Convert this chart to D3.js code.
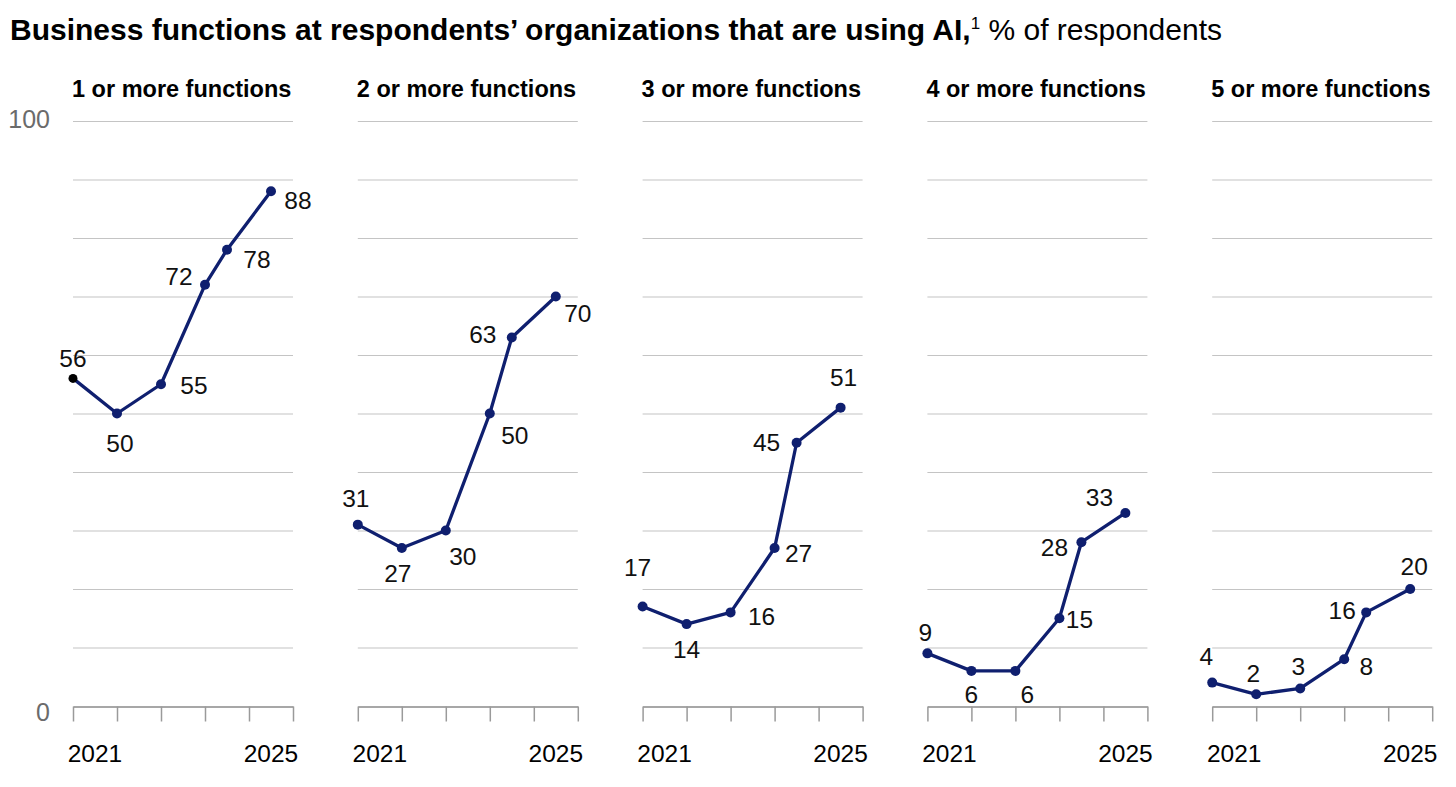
<!DOCTYPE html>
<html>
<head>
<meta charset="utf-8">
<script src="https://cdn.jsdelivr.net/npm/d3@7"></script>
<style>
  body { margin: 0; background: #fff; }
  text { font-family: "Liberation Sans", Arial, sans-serif; }
</style>
</head>
<body>
<div id="chart"></div>
<script>

// Panel titles
var panelTitles = ["1 or more functions", "2 or more functions", "3 or more functions",
    "4 or more functions", "5 or more functions"];

// Survey points, in years after start of 2021
var periods = [0, 1, 2, 3, 3.5, 4.5];

// % of respondents, one array per panel
var oneOrMore   = [56, 50, 55, 72, 78, 88];
var twoOrMore   = [31, 27, 30, 50, 63, 70];
var threeOrMore = [17, 14, 16, 27, 45, 51];
var fourOrMore  = [9, 6, 6, 15, 28, 33];
var fiveOrMore  = [4, 2, 3, 8, 16, 20];
var series = [oneOrMore, twoOrMore, threeOrMore, fourOrMore, fiveOrMore];

// Axis ticks
var yGrid = [0, 10, 20, 30, 40, 50, 60, 70, 80, 90, 100];
var yLabels = [0, 100];
var xTicks = [0, 1, 2, 3, 4, 5];
var xLabels = [{ pos: 0.5, text: "2021" }, { pos: 4.5, text: "2025" }];

// Label offsets from each point (label centre, px)
var labelOffsets = [
    [[0, -20], [3, 29], [33, 1], [-26, -9], [30, 9], [27, 9]],
    [[-2, -27], [-4, 25], [17, 25], [25, 21], [-29, -3], [22, 16]],
    [[-5, -40], [0, 25], [31, 4], [24, 5], [-30, -1], [3, -31]],
    [[-2, -21], [0, 23], [12, 23], [20, 1], [-27, 5], [-26, -16]],
    [[-6, -27], [-3, -21], [-2, -22], [22, 7], [-24, -2], [4, -23]]
];

var width = 1456, height = 787;
var panelLeft = 73, panelStep = 284.8, panelWidth = 220;
var plotTop = 121, plotBottom = 706;
var navy = "#0f1f6f";

var svg = d3.select("#chart").append("svg")
    .attr("width", width)
    .attr("height", height);

// Title
var title = svg.append("text")
    .attr("x", 10)
    .attr("y", 40)
    .style("font-size", "30px")
    .style("fill", "#000");
title.append("tspan")
    .style("font-weight", "bold")
    .text("Business functions at respondents\u2019 organizations that are using AI,");
title.append("tspan")
    .attr("dy", -11)
    .style("font-size", "17px")
    .text("1");
title.append("tspan")
    .attr("dy", 11)
    .text(" % of respondents");

var y = d3.scaleLinear().domain([0, 100]).range([plotBottom, plotTop]);

// Y labels on the left
svg.selectAll(".ylabel")
    .data(yLabels)
    .enter().append("text")
    .attr("class", "ylabel")
    .attr("x", 50)
    .attr("y", function(d) { return y(d) + (d === 0 ? 15 : 7); })
    .attr("text-anchor", "end")
    .style("font-size", "25px")
    .style("fill", "#6b6b6b")
    .text(function(d) { return d; });

series.forEach(function(values, i) {
    var x0 = panelLeft + i * panelStep;
    var x = d3.scaleLinear().domain([0, 5]).range([x0, x0 + panelWidth]);

    var g = svg.append("g").attr("class", "panel");

    // Panel heading
    g.append("text")
        .attr("x", x0 - 1)
        .attr("y", 97)
        .style("font-size", "23.5px")
        .style("font-weight", "bold")
        .style("fill", "#000")
        .text(panelTitles[i]);

    // Gridlines
    g.selectAll(".grid")
        .data(yGrid.filter(function(d) { return d > 0; }))
        .enter().append("line")
        .attr("class", "grid")
        .attr("x1", x(0))
        .attr("x2", x(5))
        .attr("y1", function(d) { return y(d) + 0.5; })
        .attr("y2", function(d) { return y(d) + 0.5; })
        .style("stroke", "#c4c4c4")
        .style("stroke-width", 1.2);

    // Bottom axis
    var axis = g.append("g")
        .attr("transform", "translate(0," + (plotBottom + 0.5) + ")")
        .call(d3.axisBottom(x).tickValues(xTicks).tickSize(15).tickSizeOuter(0).tickFormat(""));
    axis.select(".domain").style("stroke", "#8a8a8a").style("stroke-width", 1.5);
    axis.selectAll(".tick line").style("stroke", "#9a9a9a").style("stroke-width", 1.5);

    g.selectAll(".xlabel")
        .data(xLabels)
        .enter().append("text")
        .attr("class", "xlabel")
        .attr("x", function(d) { return x(d.pos); })
        .attr("y", 762)
        .attr("text-anchor", "middle")
        .style("font-size", "24.5px")
        .style("fill", "#000")
        .text(function(d) { return d.text; });

    var points = values.map(function(v, j) { return { t: periods[j], v: v, j: j }; });

    var line = d3.line()
        .x(function(d) { return x(d.t); })
        .y(function(d) { return y(d.v); });

    g.append("path")
        .datum(points)
        .attr("d", line)
        .style("fill", "none")
        .style("stroke", navy)
        .style("stroke-width", 3.3)
        .style("stroke-linejoin", "round");

    g.selectAll("circle")
        .data(points)
        .enter().append("circle")
        .attr("cx", function(d) { return x(d.t); })
        .attr("cy", function(d) { return y(d.v); })
        .attr("r", function(d) { return (i === 0 && d.j === 0) ? 4.5 : 5; })
        .style("fill", function(d) { return (i === 0 && d.j === 0) ? "#000" : navy; });

    g.selectAll(".vlabel")
        .data(points)
        .enter().append("text")
        .attr("class", "vlabel")
        .attr("x", function(d) { return x(d.t) + labelOffsets[i][d.j][0]; })
        .attr("y", function(d) { return y(d.v) + labelOffsets[i][d.j][1] + 9; })
        .attr("text-anchor", "middle")
        .style("font-size", "24.5px")
        .style("fill", "#111")
        .text(function(d) { return d.v; });
});

</script>
</body>
</html>
